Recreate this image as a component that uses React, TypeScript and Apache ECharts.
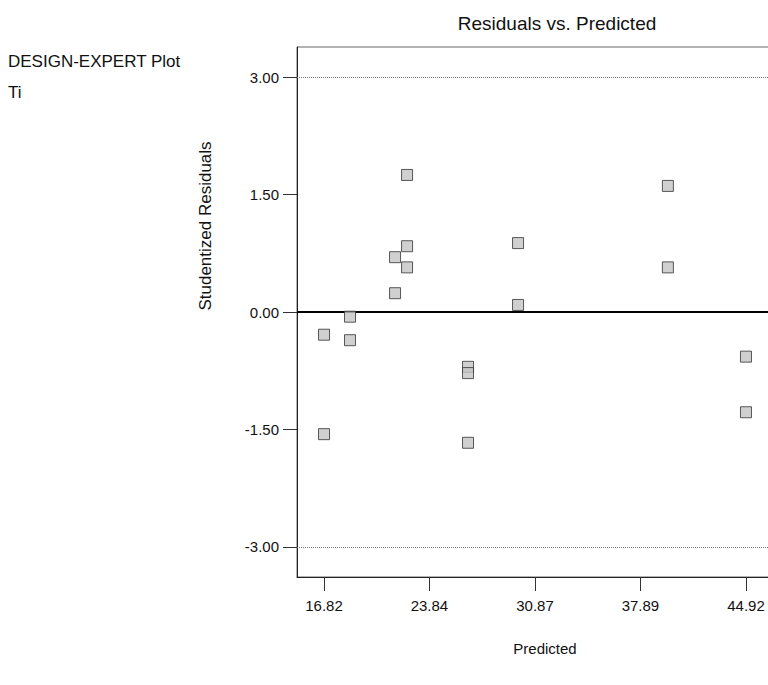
import React, { useEffect, useRef } from "react";
import * as echarts from "echarts";

const predicted = [16.82, 16.82, 18.55, 18.55, 21.55, 21.55, 22.35, 22.35, 22.35, 26.41, 26.41, 26.41, 29.74, 29.74, 39.72, 39.72, 44.92, 44.92];
const residuals = [-0.29, -1.56, -0.06, -0.36, 0.70, 0.24, 1.75, 0.84, 0.57, -0.70, -0.78, -1.67, 0.88, 0.09, 1.61, 0.57, -0.57, -1.28];
const xTicks = [16.82, 23.84, 30.87, 37.89, 44.92];
const yTicks = [-3, -1.5, 0, 1.5, 3];
const refLines = [3, -3];

const FONT = "Liberation Sans, Arial, sans-serif";

export default function App() {
  const ref = useRef<HTMLDivElement>(null);
  useEffect(() => {
    if (!ref.current) return;
    const chart = echarts.init(ref.current, null, { renderer: "svg" });
    const data = predicted.map((x, i) => [x, residuals[i]]);
    chart.setOption({
      animation: false,
      backgroundColor: "#fff",
      textStyle: { fontFamily: FONT },
      title: {
        text: "Residuals vs. Predicted",
        left: 552,
        textAlign: "center",
        top: 9,
        textStyle: { fontFamily: FONT, fontSize: 19, fontWeight: "normal", color: "#111" },
      },
      graphic: [
        { type: "text", left: 8, top: 53, style: { text: "DESIGN-EXPERT Plot", font: `17px ${FONT}`, fill: "#111" } },
        { type: "text", left: 8, top: 84, style: { text: "Ti", font: `17px ${FONT}`, fill: "#111" } },
        {
          type: "text",
          x: 205,
          y: 226,
          rotation: Math.PI / 2,
          style: { text: "Studentized Residuals", font: `17px ${FONT}`, fill: "#111", align: "center", verticalAlign: "middle" },
        },
        {
          type: "text",
          x: 545,
          y: 648,
          style: { text: "Predicted", font: `15px ${FONT}`, fill: "#111", align: "center", verticalAlign: "middle" },
        },
      ],
      grid: {
        left: 297,
        top: 47,
        width: 476,
        height: 530,
        outerBoundsMode: "none",
        containLabel: false,
        show: true,
        borderColor: "#666",
        borderWidth: 1,
        backgroundColor: "transparent",
      },
      xAxis: {
        type: "value",
        min: 15.02,
        max: 46.72,
        axisLine: { show: true, onZero: false, lineStyle: { color: "#222", width: 1 } },
        axisTick: { show: true, length: 14, customValues: xTicks, lineStyle: { color: "#333" } },
        axisLabel: {
          customValues: xTicks,
          formatter: (v: number) => v.toFixed(2),
          fontFamily: FONT,
          fontSize: 15,
          color: "#111",
          margin: 21,
        },
        splitLine: { show: false },
      },
      yAxis: {
        type: "value",
        min: -3.384,
        max: 3.384,
        axisLine: { show: true, onZero: false, lineStyle: { color: "#222", width: 1 } },
        axisTick: { show: true, length: 14, customValues: yTicks, lineStyle: { color: "#333" } },
        axisLabel: {
          customValues: yTicks,
          formatter: (v: number) => v.toFixed(2),
          fontFamily: FONT,
          fontSize: 15,
          color: "#111",
          margin: 18,
        },
        splitLine: { show: false },
      },
      series: [
        {
          type: "scatter",
          data,
          symbol: "rect",
          symbolSize: 11,
          itemStyle: { color: "#c4c4c4", borderColor: "#333", borderWidth: 1 },
          z: 5,
          markLine: {
            silent: true,
            symbol: "none",
            label: { show: false },
            z: 3,
            data: [
              ...refLines.map((v) => ({ yAxis: v, lineStyle: { color: "#777", width: 1, type: "dotted" } })),
              { yAxis: 0, lineStyle: { color: "#000", width: 2, type: "solid" } },
            ],
          },
        },
      ],
    });
    return () => chart.dispose();
  }, []);
  return <div ref={ref} style={{ position: "absolute", left: 0, top: 0, width: 768, height: 685 }} />;
}
